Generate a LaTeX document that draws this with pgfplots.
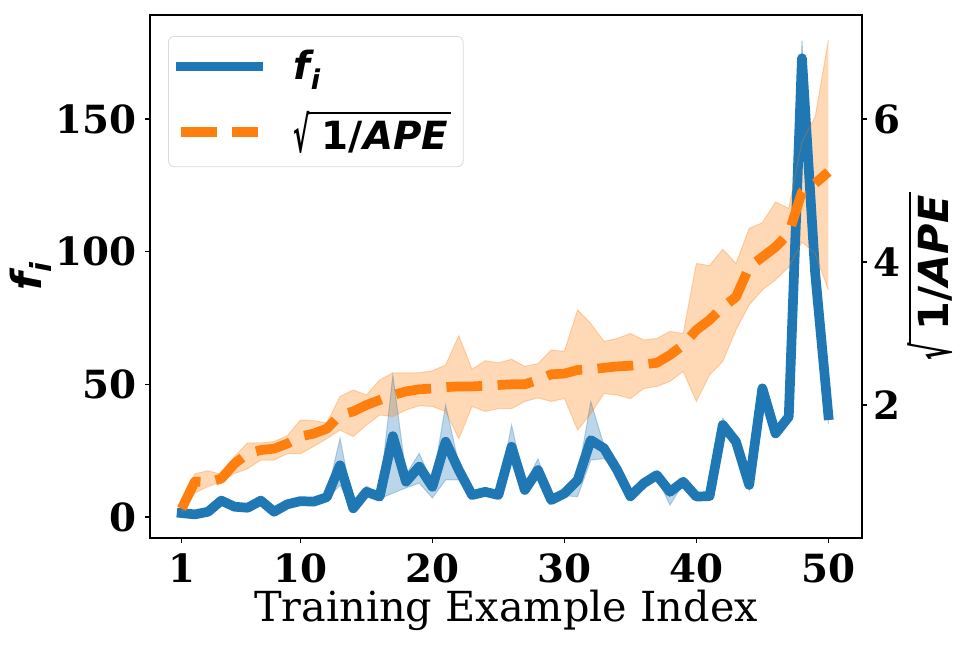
\documentclass[border=0pt]{standalone}
\usepackage{graphicx}
\usepackage{pgfplots}
\pgfplotsset{compat=1.18}
\usepackage{pgfplotstable}
\usepgfplotslibrary{fillbetween}
\usepackage{fontspec}
\setmainfont{DejaVu Serif}
\newfontfamily\dvs{DejaVu Sans}
\definecolor{mblue}{HTML}{1F77B4}
\definecolor{morange}{HTML}{FF7F0E}
\newcommand\bigf{\fontsize{19.4}{23}\selectfont}
\newcommand\labf{\fontsize{20.7}{24}\selectfont}
\newcommand\fsub{{\dvs\bfseries\itshape f\kern0.02em\raisebox{-0.25em}{\fontsize{0.7em}{0.8em}\selectfont i}}}
\newcommand\sqape{{\dvs\bfseries\raisebox{-0.085em}{\resizebox*{0.42em}{1.085em}{\raisebox{\depth}{√}}}\kern-0.04em\vbox{\hrule height 0.055em\kern0.18em\hbox{\kern0.36em 1/\itshape APE\kern0.08em}}}}

\pgfplotstableread{
i f flo fhi s slo shi
1 1.5 0.7 2.3 0.55 0.50 0.60
2 1.0 0.2 1.8 0.93 0.77 1.04
3 2.0 1.2 2.8 0.92 0.86 1.08
4 6.2 5.4 7.0 0.97 0.93 1.03
5 3.9 3.1 4.7 1.18 1.04 1.28
6 3.5 2.7 4.3 1.32 1.11 1.47
7 6.2 5.4 7.0 1.37 1.23 1.47
8 2.0 1.2 2.8 1.39 1.23 1.49
9 4.8 4.0 5.6 1.46 1.32 1.57
10 6.0 5.2 6.8 1.56 1.32 1.79
11 5.8 5.0 6.6 1.60 1.42 1.78
12 7.5 6.7 8.3 1.67 1.53 1.75
13 19.5 12.0 29.7 1.86 1.65 2.12
14 3.3 2.5 4.1 1.91 1.56 2.21
15 9.5 9.0 11.7 2.00 1.72 2.14
16 7.7 6.9 8.5 2.07 1.86 2.35
17 30.5 9.0 53.5 2.14 1.84 2.45
18 13.3 11.0 16.0 2.19 1.93 2.45
19 19.0 12.8 24.0 2.22 1.99 2.45
20 11.4 7.2 13.0 2.23 1.98 2.48
21 28.4 14.0 42.2 2.25 1.91 2.56
22 17.7 14.0 20.0 2.26 1.53 2.97
23 8.3 7.5 9.0 2.26 1.98 2.50
24 9.5 8.5 11.0 2.27 1.91 2.62
25 8.3 7.5 9.0 2.28 1.95 2.59
26 26.5 24.0 34.7 2.29 1.95 2.64
27 10.2 9.0 12.0 2.29 2.05 2.54
28 17.7 15.0 22.0 2.35 2.10 2.58
29 6.4 5.5 7.0 2.43 2.05 2.77
30 8.9 8.0 10.0 2.44 2.09 2.75
31 13.9 7.7 15.0 2.49 1.65 3.33
32 29.0 21.5 43.5 2.50 1.88 3.14
33 25.9 22.0 27.0 2.52 2.16 2.89
34 17.7 17.0 19.0 2.54 2.14 2.93
35 7.8 7.0 8.5 2.55 2.09 3.00
36 12.7 11.9 13.5 2.57 2.23 2.91
37 15.8 15.0 17.0 2.59 2.26 2.93
38 9.5 4.5 10.0 2.70 2.33 3.03
39 13.3 12.5 14.1 2.84 2.47 3.00
40 7.7 6.9 8.5 3.05 2.05 3.98
41 7.9 7.1 8.7 3.19 2.42 3.95
42 34.7 33.0 37.3 3.37 2.61 4.18
43 28.4 27.6 29.2 3.51 3.05 3.98
44 12.1 10.0 13.0 3.93 3.40 4.47
45 48.5 47.7 49.3 4.07 3.61 4.55
46 31.5 30.7 32.3 4.21 3.75 4.84
47 37.8 37.0 38.6 4.40 3.93 4.75
48 172.9 168.0 179.5 4.98 4.28 5.68
49 92.0 88.0 96.0 5.10 4.12 6.03
50 38.4 35.0 40.0 5.26 3.61 7.10
}\data

\begin{document}
\begin{tikzpicture}
\pgfplotsset{
  common/.style={
    scale only axis, width=356pt, height=261.5pt,
    at={(0pt,0pt)}, anchor=south west,
    xmin=-1.4, xmax=52.55,
    tick align=outside, major tick length=2.5pt,
    axis line style={line width=0.7pt},
    every tick/.style={black, line width=0.7pt},
    tick label style={font=\bigf\bfseries},
    /pgf/number format/assume math mode=true,
  },
}
\begin{axis}[common,
  ymin=-7.9, ymax=189.2,
  xtick={1,10,20,30,40,50}, xtick pos=bottom,
  ytick={0,50,100,150}, ytick pos=left,
  yticklabel style={inner sep=0pt, xshift=-4pt},
  xticklabel style={inner sep=0pt, yshift=-5pt},
  xlabel={Training Example Index},
  xlabel style={font=\labf, at={(axis description cs:0.5,0)}, anchor=north, inner sep=0pt, yshift=-26pt},
  ylabel={\fsub},
  ylabel style={font=\labf, at={(axis description cs:0,0.5)}, anchor=center, inner sep=0pt, yshift=59.5pt},
]
\addplot[name path=fu, draw=mblue, draw opacity=0.3, line width=0.5pt, forget plot] table[x=i,y=fhi]{\data};
\addplot[name path=fl, draw=mblue, draw opacity=0.3, line width=0.5pt, forget plot] table[x=i,y=flo]{\data};
\addplot[mblue, fill opacity=0.3, forget plot] fill between[of=fu and fl];
\addplot[mblue, line width=4.85pt, line join=round, line cap=rect] table[x=i,y=f]{\data};
\end{axis}
\begin{axis}[common,
  ymin=0.14, ymax=7.455,
  hide x axis, axis y line*=right,
  ytick={2,4,6},
  yticklabel style={inner sep=0pt, xshift=3pt},
  ylabel={\sqape},
  ylabel style={font=\labf, at={(axis description cs:1,0.5)}, anchor=center, inner sep=0pt, yshift=-34pt},
  legend style={at={(axis description cs:0,1)}, anchor=north west, xshift=9pt, yshift=-10.5pt,
    draw=black!15, rounded corners=3pt, fill=white, fill opacity=0.8, text opacity=1,
    font=\bigf, inner xsep=4pt, inner ysep=5pt, row sep=10pt,
    cells={anchor=west}},
  legend image code/.code={\draw[#1] (0pt,0pt) -- (38.5pt,0pt); \path[draw=none, fill=none] (0pt,0pt) -- (54pt,0pt);},
]
\addlegendimage{mblue, line width=4.85pt, line cap=rect}
\addlegendentry{\fsub}
\addplot[name path=su, draw=morange, draw opacity=0.3, line width=0.5pt, forget plot] table[x=i,y=shi]{\data};
\addplot[name path=sl, draw=morange, draw opacity=0.3, line width=0.5pt, forget plot] table[x=i,y=slo]{\data};
\addplot[morange, fill opacity=0.3, forget plot] fill between[of=su and sl];
\addplot[morange, line width=4.85pt, dash pattern=on 17.9pt off 7.7pt, line join=round] table[x=i,y=s]{\data};
\addlegendentry{\sqape\hspace{3pt}}
\end{axis}
\pgfresetboundingbox
\useasboundingbox (-75pt,-53.5pt) rectangle (409pt,269pt);
\end{tikzpicture}
\end{document}
